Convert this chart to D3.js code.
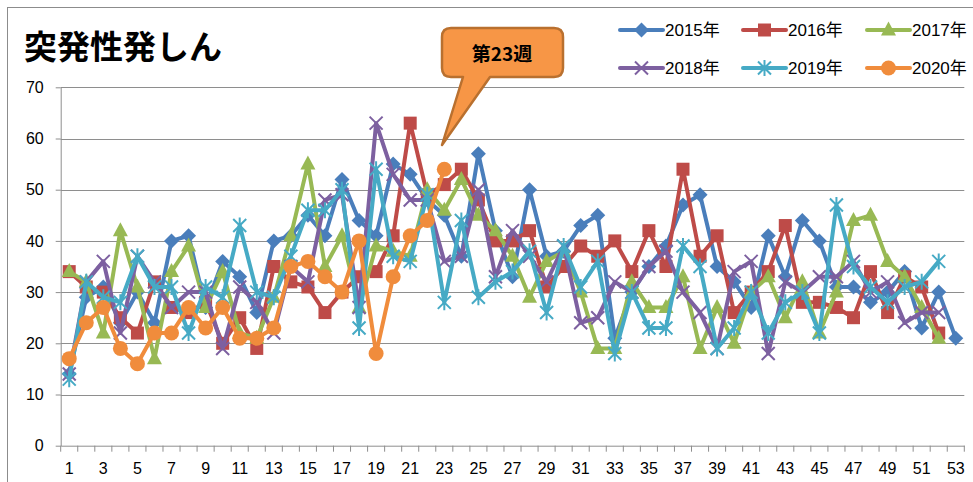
<!DOCTYPE html>
<html>
<head>
<meta charset="utf-8">
<script src="https://cdn.jsdelivr.net/npm/d3@7"></script>
<style>
  body { margin: 0; background: #fff; }
  svg { display: block; font-family: 'Liberation Sans', 'Noto Sans CJK JP', sans-serif; }
</style>
</head>
<body>
<div class="chart"></div>
<script>
const weeks = d3.range(1, 54);
const yTicks = [0, 10, 20, 30, 40, 50, 60, 70];
const seriesNames = ['2015年', '2016年', '2017年', '2018年', '2019年', '2020年'];

const y2015 = [14, 29, 31, 24, 30, 24, 40, 41, 27, 36, 33, 26, 40, 41, 45, 41, 52, 44, 41, 55,
  53, 48, 45, 37, 57, 42, 33, 50, 37, 38, 43, 45, 21, 30, 35, 39, 47, 49, 35, 32,
  27, 41, 33, 44, 40, 31, 31, 28, 30, 34, 23, 30, 21];
const y2016 = [34, 31, 30, 25, 22, 32, 27, 26, 28, 20, 25, 19, 35, 32, 31, 26, 30, 33, 34, 41,
  63, 49, 51, 54, 48, 40, 40, 42, 31, 35, 39, 37, 40, 34, 42, 35, 54, 37, 41, 26,
  30, 34, 43, 28, 28, 27, 25, 34, 26, 33, 31, 22];
const y2017 = [34, 32, 22, 42, 31, 17, 34, 39, 27, 34, 22, 21, 29, 41, 55, 35, 41, 27, 39, 38,
  37, 50, 46, 52, 45, 42, 37, 29, 36, 38, 30, 19, 19, 32, 27, 27, 33, 19, 27, 20,
  30, 33, 25, 32, 22, 30, 44, 45, 36, 33, 27, 21];
const y2018 = [14, 32, 36, 22, 37, 32, 27, 30, 30, 19, 31, 28, 22, 35, 32, 48, 49, 27, 63, 53,
  48, 48, 36, 37, 50, 33, 42, 37, 32, 39, 24, 25, 32, 30, 35, 38, 30, 26, 19, 34,
  36, 18, 32, 30, 33, 33, 36, 30, 32, 24, 26, 26];
const y2019 = [13, 32, 29, 28, 37, 31, 31, 22, 31, 29, 43, 30, 29, 37, 46, 46, 50, 23, 54, 37,
  36, 49, 28, 44, 29, 32, 34, 38, 26, 39, 31, 36, 18, 30, 23, 23, 39, 35, 19, 23,
  30, 22, 28, 30, 22, 47, 35, 31, 28, 31, 32, 36];
const y2020 = [17, 24, 27, 19, 16, 22, 22, 27, 23, 27, 21, 21, 23, 35, 36, 33, 30, 40, 18, 33,
  41, 44, 54];

const allValues = [y2015, y2016, y2017, y2018, y2019, y2020];
const colors = ['#4A7EBB', '#BE4B48', '#98B954', '#7D60A0', '#46AAC5', '#F08C3C'];
const markers = ['diamond', 'square', 'triangle', 'x', 'star', 'circle'];

const W = 973, H = 482;
const svg = d3.select('.chart').append('svg')
  .attr('width', W)
  .attr('height', H);

// chart border (cut off on right / bottom like the reference)
svg.append('rect')
  .attr('x', 7.5).attr('y', 7.5)
  .attr('width', 1000).attr('height', 600)
  .attr('fill', 'none')
  .attr('stroke', '#8c8c8c');

const xScale = d3.scaleBand()
  .domain(weeks)
  .range([60.7, 964.3])
  .padding(0);
const xc = d => xScale(d) + xScale.bandwidth() / 2;

const yScale = d3.scaleLinear()
  .domain([0, 70])
  .range([445.7, 87.3]);

// grid
svg.append('g')
  .selectAll('line')
  .data(yTicks.slice(1))
  .enter()
  .append('line')
    .attr('x1', 60.7).attr('x2', 964.3)
    .attr('y1', d => Math.round(yScale(d)) + 0.5)
    .attr('y2', d => Math.round(yScale(d)) + 0.5)
    .attr('stroke', '#8e8e8e')
    .attr('stroke-width', 1.2);

// y axis
const yAxis = svg.append('g')
  .attr('transform', 'translate(60.7,0)')
  .call(d3.axisLeft(yScale).tickValues(yTicks).tickSize(5).tickSizeOuter(0));
yAxis.select('.domain').attr('stroke', '#8e8e8e');
yAxis.selectAll('line').attr('stroke', '#8e8e8e');
yAxis.selectAll('text')
  .attr('x', -17)
  .style('font-size', '16px')
  .attr('fill', '#000');

// x axis
const xAxis = svg.append('g')
  .attr('transform', 'translate(0,445.7)')
  .call(d3.axisBottom(xScale)
    .tickSize(0)
    .tickSizeOuter(0)
    .tickFormat(d => d % 2 === 1 ? d : ''));
xAxis.select('.domain').attr('stroke', '#8e8e8e');
xAxis.selectAll('text')
  .attr('y', 17)
  .style('font-size', '16px')
  .attr('fill', '#000');
xAxis.selectAll('.bound')
  .data(weeks.concat([54]))
  .enter()
  .append('line')
    .attr('class', 'bound')
    .attr('x1', d => d === 54 ? 964.3 : xScale(d))
    .attr('x2', d => d === 54 ? 964.3 : xScale(d))
    .attr('y1', 0).attr('y2', 6)
    .attr('stroke', '#8e8e8e');

function markerPath(type) {
  switch (type) {
    case 'diamond': return 'M0,-7.5L7.5,0L0,7.5L-7.5,0Z';
    case 'square': return 'M-6.5,-6.5H6.5V6.5H-6.5Z';
    case 'triangle': return 'M0,-8.5L7.5,5.5H-7.5Z';
    case 'x': return 'M-6.5,-6.5L6.5,6.5M-6.5,6.5L6.5,-6.5';
    case 'star': return 'M-6.5,-6.5L6.5,6.5M-6.5,6.5L6.5,-6.5M0,-8L0,8';
    default: return null;
  }
}

function drawMarker(g, type, color) {
  if (type === 'circle') {
    g.append('circle').attr('r', 7.5).attr('fill', color);
  } else if (type === 'x' || type === 'star') {
    g.append('path').attr('d', markerPath(type))
      .attr('stroke', color).attr('stroke-width', 2).attr('fill', 'none');
  } else {
    g.append('path').attr('d', markerPath(type)).attr('fill', color);
  }
}

const line = d3.line()
  .x((d, i) => xc(weeks[i]))
  .y(d => yScale(d));

allValues.forEach((vals, si) => {
  const g = svg.append('g').attr('class', 'series');
  g.append('path')
    .attr('d', line(vals))
    .attr('fill', 'none')
    .attr('stroke', colors[si])
    .attr('stroke-width', 4)
    .attr('stroke-linejoin', 'round');
  g.selectAll('.pt')
    .data(vals)
    .enter()
    .append('g')
      .attr('class', 'pt')
      .attr('transform', (d, i) => `translate(${xc(weeks[i])},${yScale(d)})`)
      .each(function() { drawMarker(d3.select(this), markers[si], colors[si]); });
});

// title
svg.append('text')
  .attr('x', 24).attr('y', 59)
  .style('font-family', "'Noto Sans CJK JP', sans-serif")
  .style('font-size', '33px')
  .style('font-weight', 'bold')
  .text('突発性発しん');

// legend
const legX = [620, 743, 867];
const legY = [30, 68];
seriesNames.forEach((name, i) => {
  const lx = legX[i % 3], ly = legY[Math.floor(i / 3)];
  const g = svg.append('g').attr('transform', `translate(${lx},${ly})`);
  g.append('line')
    .attr('x1', 0).attr('x2', 43)
    .attr('stroke', colors[i]).attr('stroke-width', 4)
    .attr('stroke-linecap', 'round');
  const m = g.append('g').attr('transform', 'translate(21.5,0)');
  drawMarker(m, markers[i], colors[i]);
  g.append('text')
    .attr('x', 45).attr('y', 6)
    .style('font-size', '17px')
    .text(name);
});

// callout
const callout = svg.append('g');
const cx0 = 442, cy0 = 28, cx1 = 563, cy1 = 77, r = 9;
const tail = { x: 442, y: 145 };
callout.append('path')
  .attr('d', `M${cx0 + r},${cy0}H${cx1 - r}Q${cx1},${cy0} ${cx1},${cy0 + r}V${cy1 - r}` +
    `Q${cx1},${cy1} ${cx1 - r},${cy1}H490L${tail.x},${tail.y}L463,${cy1}H${cx0 + r}` +
    `Q${cx0},${cy1} ${cx0},${cy1 - r}V${cy0 + r}Q${cx0},${cy0} ${cx0 + r},${cy0}Z`)
  .attr('fill', '#F79646')
  .attr('stroke', '#B9702F')
  .attr('stroke-width', 2.5)
  .attr('stroke-linejoin', 'round');
callout.append('text')
  .attr('x', 502).attr('y', 61)
  .attr('text-anchor', 'middle')
  .style('font-family', "'Noto Sans CJK JP', sans-serif")
  .style('font-size', '19px')
  .style('font-weight', 'bold')
  .text('第23週');
</script>
</body>
</html>
